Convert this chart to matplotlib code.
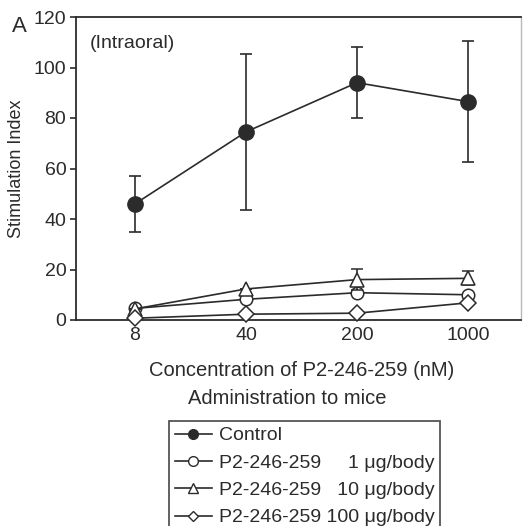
import matplotlib
matplotlib.use("Agg")
import matplotlib.pyplot as plt
from matplotlib.lines import Line2D

plt.rcParams['font.family'] = ['Liberation Sans', 'DejaVu Sans']

conc = [8, 40, 200, 1000]
conc_labels = ["8", "40", "200", "1000"]

control = [46, 74.5, 94, 86.5]
control_err = [11, 31, 14, 24]

dose1 = [4.6, 8.2, 10.8, 10.0]
dose1_err = [0, 0, 0, 0]

dose10 = [4.4, 12.3, 16.0, 16.5]
dose10_err = [0, 0, 4.2, 2.8]

dose100 = [0.7, 2.3, 2.7, 6.8]
dose100_err = [0, 0, 0, 0]

labels = ["Control",
          "P2-246-259     1 \u03bcg/body",
          "P2-246-259   10 \u03bcg/body",
          "P2-246-259 100 \u03bcg/body"]

INK = "#2b2b2b"

fig = plt.figure(figsize=(5.23, 5.26), dpi=100)
ax = fig.add_axes([76 / 523, 1 - 320 / 526, 445 / 523, 303 / 526])

common = dict(color=INK, linewidth=1.2, elinewidth=1.2, capsize=4,
              capthick=1.2, clip_on=False)
ax.errorbar(conc, control, yerr=control_err, marker="o", markersize=11,
            markerfacecolor=INK, markeredgecolor=INK, zorder=5, **common)
ax.errorbar(conc, dose10, yerr=dose10_err, marker="^", markersize=10,
            markerfacecolor="white", markeredgecolor=INK,
            markeredgewidth=1.1, zorder=4, **common)
ax.errorbar(conc, dose1, yerr=dose1_err, marker="o", markersize=9,
            markerfacecolor="white", markeredgecolor=INK,
            markeredgewidth=1.1, zorder=3, **common)
ax.errorbar(conc, dose100, yerr=dose100_err, marker="D", markersize=8,
            markerfacecolor="white", markeredgecolor=INK,
            markeredgewidth=1.1, zorder=4, **common)

ax.set_xscale("log")
ax.set_xlim(3.40, 2157)
ax.set_ylim(0, 120)
ax.set_xticks(conc)
ax.set_xticklabels(conc_labels)
ax.minorticks_off()
ax.set_yticks([0, 20, 40, 60, 80, 100, 120])
ax.tick_params(axis="x", length=0, pad=5, labelsize=14, colors=INK)
ax.tick_params(axis="y", length=4, width=1.2, pad=3, labelsize=14,
               colors=INK)

for side in ["left", "bottom", "top"]:
    ax.spines[side].set_color(INK)
    ax.spines[side].set_linewidth(1.3)
ax.spines["right"].set_color("#b8b8b8")
ax.spines["right"].set_linewidth(1.0)

ax.set_ylabel("Stimulation Index", fontsize=13, color=INK, labelpad=6)

fig.text(12 / 523, 1 - 32 / 526, "A", fontsize=16, color=INK,
         ha="left", va="baseline")
fig.text(90 / 523, 1 - 44 / 526, "(Intraoral)",
         fontsize=14, color=INK, ha="left", va="center")
fig.text(302 / 523, 1 - 371 / 526, "Concentration of P2-246-259 (nM)",
         fontsize=14.5, color=INK, ha="center", va="center")
fig.text(287 / 523, 1 - 399 / 526, "Administration to mice",
         fontsize=14.5, color=INK, ha="center", va="center")

# legend proxies without error bars
handles = [
    Line2D([], [], color=INK, lw=1.2, marker="o", markersize=7,
           markerfacecolor=INK, markeredgecolor=INK),
    Line2D([], [], color=INK, lw=1.2, marker="o", markersize=7,
           markerfacecolor="white", markeredgecolor=INK),
    Line2D([], [], color=INK, lw=1.2, marker="^", markersize=7,
           markerfacecolor="white", markeredgecolor=INK),
    Line2D([], [], color=INK, lw=1.2, marker="D", markersize=5.5,
           markerfacecolor="white", markeredgecolor=INK),
]
leg = fig.legend(handles, labels,
                 loc="upper left",
                 bbox_to_anchor=(169 / 523, 1 - 421 / 526),
                 bbox_transform=fig.transFigure,
                 fontsize=14, frameon=True, fancybox=False,
                 handlelength=1.9, handletextpad=0.35, borderpad=0.3,
                 labelspacing=0.5, borderaxespad=0)
leg.get_frame().set_edgecolor(INK)
leg.get_frame().set_linewidth(1.3)
for t in leg.get_texts():
    t.set_color(INK)

fig.savefig("out.png", dpi=100, facecolor="white")
